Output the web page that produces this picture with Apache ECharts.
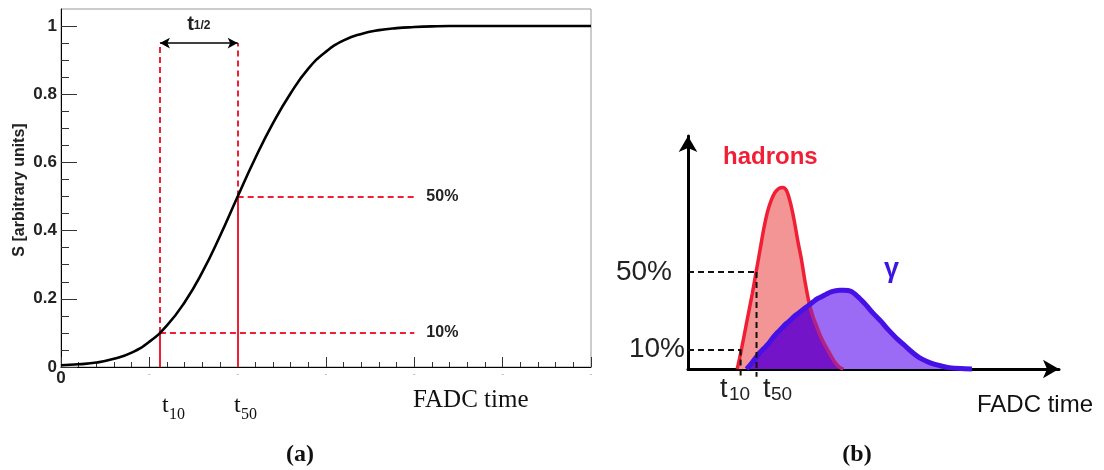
<!DOCTYPE html>
<html>
<head>
<meta charset="utf-8">
<script src="https://cdn.jsdelivr.net/npm/echarts@6/dist/echarts.min.js"></script>
<style>html,body{margin:0;padding:0;background:#fff}#c{width:1104px;height:470px}</style>
</head>
<body>
<div id="c"></div>
<script>
// ---------- Panel (a): integrated signal S vs FADC time ----------
const curveX = [0, 0.2, 0.4, 0.6, 0.8, 1.0, 1.2, 1.4, 1.6, 1.8, 2.0, 2.2, 2.4, 2.6, 2.8, 3.0, 3.2, 3.4, 3.6, 3.8, 4.0, 4.2, 4.4, 5.0, 6.0];
const curveY = [0.005, 0.008, 0.013, 0.024, 0.042, 0.074, 0.122, 0.19, 0.278, 0.384, 0.5, 0.613, 0.715, 0.803, 0.875, 0.925, 0.958, 0.977, 0.988, 0.994, 0.997, 0.999, 1.0, 1.0, 1.0];
const yMajorTicks = [0, 0.2, 0.4, 0.6, 0.8, 1.0];
const yMinorTicks = [0.05, 0.1, 0.15, 0.25, 0.3, 0.35, 0.45, 0.5, 0.55, 0.65, 0.7, 0.75, 0.85, 0.9, 0.95];
const t10Left = 1.12;
const t50Left = 2.0;
const levelLow = 0.1;
const levelHigh = 0.5;
const arrowLevel = 0.95;
const guideEnd = 4.0;
const levelLabels = ['10%', '50%'];

// ---------- Panel (b): pulse shapes ----------
const timeX   = [13, 14, 15.5, 17, 18, 19, 20, 21, 22, 23, 24, 25, 26, 27, 28, 29, 30, 31, 32, 33, 34, 35, 36, 37, 38, 39, 40, 41, 43, 45, 47, 49, 51, 53, 55, 57, 59, 61, 63, 65, 67, 69, 72, 75];
const hadrons = [0, 9, 24, 39, 50, 61, 72, 81, 87, 91, 93, 93.5, 92, 86, 77, 66, 56, 44, 34, 27, 22, 17, 13, 9.5, 6, 3, 1, 0, null, null, null, null, null, null, null, null, null, null, null, null, null, null, null, null];
const gamma   = [null, null, 0, 3.5, 6, 8.5, 10.5, 12.5, 15, 17.5, 19.5, 21.5, 23.5, 25, 27, 28.5, 30, 31.5, 33, 34.5, 36, 37, 38, 39, 39.8, 40.3, 40.5, 40.5, 40, 37, 33, 28.5, 24.5, 20, 16, 12.5, 9, 6, 4, 2.5, 1.5, 0.7, 0.2, 0];
const t10Right = 13.9;
const t50Right = 18.1;
const pctLow = 10;
const pctHigh = 50;

const sans = "'Liberation Sans', Arial, Helvetica, sans-serif";
const serif = "'Liberation Serif', 'Times New Roman', serif";
const red = '#f01f36';

function pairs(xs, ys) {
  const out = [];
  xs.forEach((x, i) => { if (ys[i] !== null) out.push([x, ys[i]]); });
  return out;
}
const overlap = [];
timeX.forEach((x, i) => {
  if (hadrons[i] !== null && gamma[i] !== null) overlap.push([x, Math.min(hadrons[i], gamma[i])]);
});

function txt(x, y, text, font, fill, align, extra) {
  return Object.assign({
    type: 'text', x: x, y: y, silent: true,
    style: { text: text, font: font, fill: fill || '#222', align: align || 'left', verticalAlign: 'middle' }
  }, extra || {});
}

const chart = echarts.init(document.getElementById('c'), null, { renderer: 'canvas' });

const option = {
  animation: false,
  backgroundColor: '#fff',
  grid: [
    { left: 61, right: 513, top: 9, bottom: 103, show: true, borderColor: '#999', borderWidth: 1, outerBoundsMode: 'none' },
    { left: 688, right: 45, top: 136, bottom: 101, outerBoundsMode: 'none' }
  ],
  xAxis: [
    {
      gridIndex: 0, type: 'value', min: 0, max: 6, interval: 1,
      axisLine: { show: true, onZero: false, lineStyle: { color: '#000', width: 1 } },
      axisTick: { show: true, inside: true, length: 10, lineStyle: { color: '#333', width: 1 } },
      minorTick: { show: true, splitNumber: 5, length: 5, lineStyle: { color: '#333', width: 1 } },
      splitLine: { show: false },
      axisLabel: {
        margin: 3,
        formatter: v => v === 0 ? '{z|0}' : '{d|-}',
        rich: {
          z: { fontSize: 17, fontWeight: 'bold', color: '#222', fontFamily: sans },
          d: { fontSize: 9, color: '#aaa', fontFamily: sans }
        }
      }
    },
    {
      gridIndex: 1, type: 'value', min: 0, max: 98,
      axisLine: { show: true, onZero: false, symbol: ['none', 'arrow'], symbolSize: [14, 16], lineStyle: { color: '#000', width: 3 } },
      axisTick: { show: false }, axisLabel: { show: false }, splitLine: { show: false }
    }
  ],
  yAxis: [
    {
      gridIndex: 0, type: 'value', min: 0, max: 1.05, position: 'left',
      axisLine: { show: true, onZero: false, lineStyle: { color: '#000', width: 1 } },
      axisTick: { show: true, inside: true, length: 16, customValues: yMajorTicks, lineStyle: { color: '#333', width: 1 } },
      splitLine: { show: false },
      axisLabel: {
        customValues: yMajorTicks, margin: 4,
        fontSize: 17, fontWeight: 'bold', color: '#222', fontFamily: sans,
        formatter: v => (v === 0 ? '0' : (Math.abs(v - 1) < 1e-9 ? '1' : v.toFixed(1)))
      }
    },
    {
      gridIndex: 0, type: 'value', min: 0, max: 1.05, position: 'left', offset: 0,
      axisLine: { show: false },
      axisTick: { show: true, inside: true, length: 8, customValues: yMinorTicks, lineStyle: { color: '#333', width: 1 } },
      axisLabel: { show: false }, splitLine: { show: false }
    },
    {
      gridIndex: 1, type: 'value', min: 0, max: 120,
      axisLine: { show: true, onZero: false, symbol: ['none', 'arrow'], symbolSize: [14, 16], lineStyle: { color: '#000', width: 3 } },
      axisTick: { show: false }, axisLabel: { show: false }, splitLine: { show: false }
    }
  ],
  series: [
    // Panel (a) curve + guides
    {
      type: 'line', xAxisIndex: 0, yAxisIndex: 0, clip: false,
      data: pairs(curveX, curveY), smooth: 0.5, showSymbol: false,
      lineStyle: { color: '#000', width: 2.6 }, z: 5,
      markLine: {
        silent: true, symbol: ['none', 'none'], animation: false,
        lineStyle: { color: red, width: 2, type: [6, 4] },
        label: { show: false },
        emphasis: { disabled: true },
        data: [
          [{ coord: [t10Left, 0], lineStyle: { type: 'solid', color: red, width: 2 } }, { coord: [t10Left, levelLow] }],
          [{ coord: [t50Left, 0], lineStyle: { type: 'solid', color: red, width: 2 } }, { coord: [t50Left, levelHigh] }],
          [{ coord: [t10Left, levelLow] }, { coord: [t10Left, arrowLevel] }],
          [{ coord: [t50Left, levelHigh] }, { coord: [t50Left, arrowLevel] }],
          [{ coord: [t10Left, levelLow], label: { show: true, position: 'end', distance: 12, formatter: levelLabels[0], fontSize: 16, fontWeight: 'bold', color: '#222', fontFamily: sans } }, { coord: [guideEnd, levelLow] }],
          [{ coord: [t50Left, levelHigh], label: { show: true, position: 'end', distance: 12, formatter: levelLabels[1], fontSize: 16, fontWeight: 'bold', color: '#222', fontFamily: sans } }, { coord: [guideEnd, levelHigh] }],
          [{
            coord: [t10Left, arrowLevel], symbol: 'arrow', symbolSize: [8, 10],
            lineStyle: { type: 'solid', color: '#000', width: 1.5 },
            label: {
              show: true, position: 'middle', distance: 5,
              formatter: '{t|t}{s|1/2}',
              rich: {
                t: { fontSize: 20, fontWeight: 'bold', color: '#222', fontFamily: sans, padding: [0, 0, 4, 0] },
                s: { fontSize: 12, fontWeight: 'bold', color: '#222', fontFamily: sans }
              }
            }
          }, { coord: [t50Left, arrowLevel], symbol: 'arrow', symbolSize: [8, 10] }]
        ]
      }
    },
    // Panel (b)
    {
      type: 'line', xAxisIndex: 1, yAxisIndex: 2, clip: false, z: 2,
      data: pairs(timeX, hadrons), smooth: 0.3, showSymbol: false,
      lineStyle: { color: red, width: 3.5 },
      areaStyle: { color: '#f39595', opacity: 1 }
    },
    {
      type: 'line', xAxisIndex: 1, yAxisIndex: 2, clip: false, z: 2,
      data: pairs(timeX, gamma), smooth: 0.3, showSymbol: false,
      lineStyle: { width: 0, opacity: 0 },
      areaStyle: { color: '#9b6bf6', opacity: 1 }
    },
    {
      type: 'line', xAxisIndex: 1, yAxisIndex: 2, clip: false, z: 2,
      data: overlap, smooth: 0.3, showSymbol: false,
      lineStyle: { color: '#a3259c', width: 2.5 },
      areaStyle: { color: '#7414c8', opacity: 1 }
    },
    {
      type: 'line', xAxisIndex: 1, yAxisIndex: 2, clip: false, z: 3,
      data: pairs(timeX, gamma), smooth: 0.3, showSymbol: false,
      lineStyle: { color: '#4511e6', width: 5 },
      markLine: {
        silent: true, symbol: ['none', 'none'], animation: false,
        lineStyle: { color: '#111', width: 2, type: [6, 4] },
        emphasis: { disabled: true },
        label: { show: false },
        data: [
          [{ coord: [0, pctHigh], label: { show: true, position: 'start', distance: 16, formatter: pctHigh + '%', fontSize: 28, color: '#222', fontFamily: sans } }, { coord: [t50Right, pctHigh] }],
          [{ coord: [0, pctLow], label: { show: true, position: 'start', distance: 3, formatter: pctLow + '%', fontSize: 28, color: '#222', fontFamily: sans } }, { coord: [t10Right, pctLow] }]
        ]
      }
    },
    {
      type: 'line', xAxisIndex: 1, yAxisIndex: 2, clip: false, z: 4,
      data: [[t50Right, pctHigh], [t50Right, -4]], showSymbol: false, silent: true,
      lineStyle: { color: '#111', width: 2, type: [6, 4] }
    },
    {
      type: 'line', xAxisIndex: 1, yAxisIndex: 2, clip: false, z: 4,
      data: [[t10Right, pctLow], [t10Right, -4]], showSymbol: false, silent: true,
      lineStyle: { color: '#111', width: 2, type: [6, 4] }
    }
  ],
  graphic: [
    txt(20, 190, 'S [arbitrary units]', 'bold 16px ' + sans, '#222', 'center', { rotation: Math.PI / 2 }),
    txt(162, 406, 't', '24px ' + serif, '#111'),
    txt(169, 415, '10', '16px ' + serif, '#111'),
    txt(234, 406, 't', '24px ' + serif, '#111'),
    txt(241, 415, '50', '16px ' + serif, '#111'),
    txt(413, 400, 'FADC time', '25px ' + serif, '#111'),
    txt(300, 455, '(a)', 'bold 24px ' + serif, '#111', 'center'),
    txt(857, 455, '(b)', 'bold 24px ' + serif, '#111', 'center'),
    txt(720, 390, 't', '27px ' + sans, '#222'),
    txt(729, 395, '10', '19px ' + sans, '#222'),
    txt(763, 390, 't', '27px ' + sans, '#222'),
    txt(771, 395, '50', '19px ' + sans, '#222'),
    txt(977, 405, 'FADC time', '24px ' + sans, '#111'),
    txt(723, 157, 'hadrons', 'bold 24px ' + sans, red),
    txt(884, 270, 'γ', 'bold 27px ' + sans, '#3c16e0')
  ]
};
chart.setOption(option);
</script>
</body>
</html>
